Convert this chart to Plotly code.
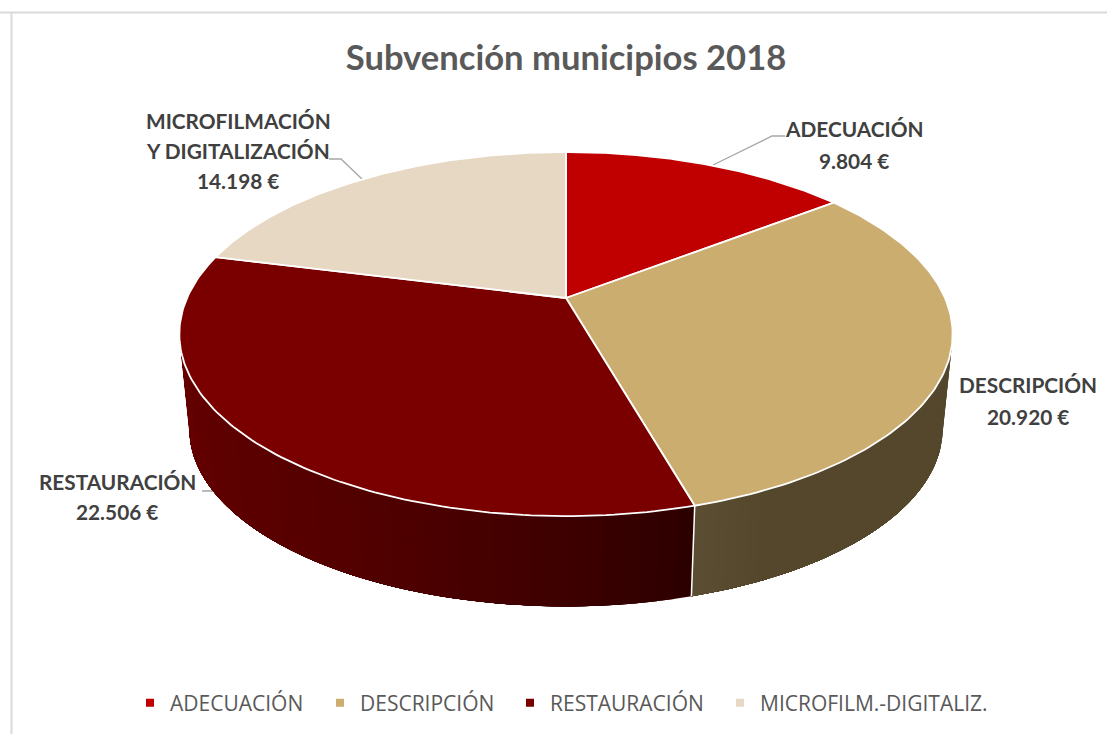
import numpy as np
import plotly.graph_objects as go

# ---- data ----
categories = ["ADECUACIÓN", "DESCRIPCIÓN", "RESTAURACIÓN", "MICROFILM.-DIGITALIZ."]
values = [9804, 20920, 22506, 14198]
label_names = [["ADECUACIÓN"], ["DESCRIPCIÓN"], ["RESTAURACIÓN"], ["MICROFILMACIÓN", "Y DIGITALIZACIÓN"]]
colors = ["#C00000", "#CCAD70", "#7A0000", "#E6D8C2"]
title = "Subvención municipios 2018"

# ---- styling / projection of the tilted disc (axis units = px) ----
CX, CY = 566.0, 298.0
A, B, K = 379.0, 174.9, 0.198
WALL_SCALE, WALL_DY = 0.974, 96.0
FONT = "Lato, 'Open Sans', sans-serif"
REST_STOPS = [(164, (44, 0, 0)), (180, (62, 0, 0)), (210, (84, 0, 0)), (258.6, (104, 0, 0))]
TAN_STOPS = [(101.4, (84, 71, 44)), (155, (84, 71, 44)), (164, (92, 77, 49))]
LEGEND_X = [130, 320, 510, 720]


def project(theta_deg, scale=1.0, dy=0.0):
    t = np.radians(theta_deg)
    u, v = np.sin(t), np.cos(t)
    d = 1 + K * v
    return CX + scale * A * u / d, CY + dy - scale * B * v / d


def stop_color(theta, stops):
    xs = [s[0] for s in stops]
    rgb = [np.interp(theta, xs, [s[1][i] for s in stops]) for i in range(3)]
    return "rgb(%d,%d,%d)" % tuple(int(round(c)) for c in rgb)


share = np.array(values, dtype=float) / sum(values)
edges = np.concatenate([[0.0], np.cumsum(share) * 360.0])

fig = go.Figure()

# side wall: each strip runs on to the end of its slice so later strips paint over it, leaving no seams
TAN_END = edges[2]
REST_END = 258.6
for lo, hi, stops, n in [(101.4, TAN_END, TAN_STOPS, 42), (TAN_END, REST_END, REST_STOPS, 42)]:
    cuts = np.linspace(lo, hi, n + 1)
    for a, b in zip(cuts[:-1], cuts[1:]):
        col = stop_color((a + b) / 2, stops)
        th = np.linspace(a, hi, 50)
        xt, yt = project(th)
        xb, yb = project(th[::-1], WALL_SCALE, WALL_DY)
        fig.add_trace(go.Scatter(x=np.r_[xt, xb, xt[0]], y=np.r_[yt, yb, yt[0]], mode="lines", fill="toself",
                                 fillcolor=col, line=dict(width=0), hoverinfo="skip", showlegend=False))

# white seam on the wall at the slice boundary
sx0, sy0 = project(TAN_END)
sx1, sy1 = project(TAN_END, WALL_SCALE, WALL_DY)
fig.add_trace(go.Scatter(x=[sx0, sx1], y=[sy0, sy1], mode="lines", line=dict(color="white", width=1.5),
                         hoverinfo="skip", showlegend=False))

# top face wedges
for i, (name, col) in enumerate(zip(categories, colors)):
    th = np.linspace(edges[i], edges[i + 1], 120)
    xr, yr = project(th)
    fig.add_trace(go.Scatter(x=np.r_[CX, xr, CX], y=np.r_[CY, yr, CY], mode="lines", fill="toself",
                             fillcolor=col, line=dict(color="white", width=1.8), name=name,
                             hovertemplate=name + ": %{text}<extra></extra>", text=[values[i]] * 122, showlegend=False))

# legend entries: one small legend per entry so that the uneven spacing can be kept
legend_keys = ["legend", "legend2", "legend3", "legend4"]
legend_layout = {}
for name, col, key, lx in zip(categories, colors, legend_keys, LEGEND_X):
    fig.add_trace(go.Scatter(x=[None], y=[None], mode="markers", name=name, legend=key,
                             marker=dict(symbol="square", size=8, color=col)))
    legend_layout[key] = dict(orientation="h", x=lx / 1107, xanchor="left", y=1 - 703 / 734, yanchor="middle",
                              font=dict(family="'Open Sans', sans-serif", size=21, color="#595959"),
                              bgcolor="rgba(0,0,0,0)")

# data labels
label_pos = [(854, [128, 160]), (1028, [384, 416]), (117, [481, 511]), (238, [120, 150, 180])]
annotations = []
for names, val, (lx, lys) in zip(label_names, values, label_pos):
    lines = names + [f"{val:,}".replace(",", ".") + " €"]
    for line, ly in zip(lines, lys):
        annotations.append(dict(x=lx, y=ly, xref="x", yref="y", text=line, showarrow=False,
                                xanchor="center", yanchor="middle",
                                font=dict(family=FONT, size=20.8, color="#404040", weight="bold")))

# leader lines and chart frame
shapes = [
    dict(type="path", path="M711,166 L772,136 L785,136", line=dict(color="#A6A6A6", width=1.3)),
    dict(type="path", path="M329,159 L341,159 L363,180", line=dict(color="#A6A6A6", width=1.3)),
    dict(type="path", path="M202,491 L213,491 L270,533", line=dict(color="#A6A6A6", width=1.3)),
    dict(type="line", x0=0, x1=1107, y0=12.5, y1=12.5, line=dict(color="#D9D9D9", width=2)),
    dict(type="line", x0=11.5, x1=11.5, y0=12.5, y1=734, line=dict(color="#D9D9D9", width=2)),
]
for s in shapes:
    s.update(xref="x", yref="y", layer="below")

fig.update_layout(
    width=1107, height=734, margin=dict(l=0, r=0, t=0, b=0),
    paper_bgcolor="white", plot_bgcolor="white",
    xaxis=dict(range=[0, 1107], visible=False, fixedrange=True),
    yaxis=dict(range=[734, 0], visible=False, fixedrange=True),
    title=dict(text=title, x=566 / 1107, xanchor="center", y=1 - 58 / 734, yanchor="middle",
               font=dict(family=FONT, size=34.6, color="#595959", weight="bold")),
    annotations=annotations, shapes=shapes, showlegend=True,
    **legend_layout,
)

fig.write_html("out.html", config={"displayModeBar": False},
               post_script="document.body.style.margin='0';document.body.style.overflow='hidden';")
